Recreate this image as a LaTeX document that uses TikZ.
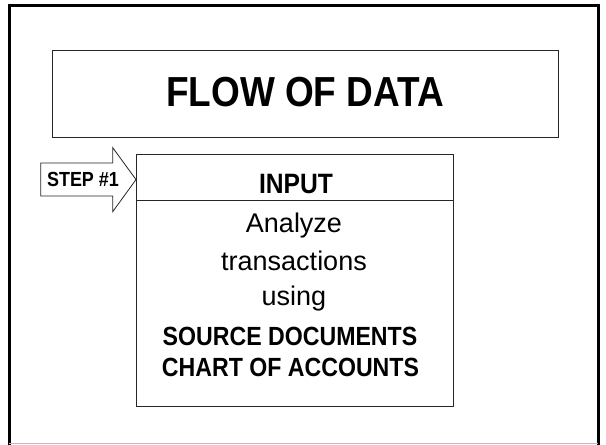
\documentclass[tikz,border=0pt]{standalone}
\usepackage{fontspec}
\setmainfont{Liberation Sans}
\newfontfamily\boldnarrow[FakeStretch=0.88]{Liberation Sans Bold}
\usetikzlibrary{shapes.arrows}
\begin{document}
\begin{tikzpicture}[x=1pt,y=-1pt,
  boxline/.style={draw=black!85, line width=0.9pt},
  frameline/.style={line width=3pt, black},
  txt/.style={inner sep=0pt, anchor=base}]
\useasboundingbox (0,0) rectangle (606,445);
% outer frame
\draw[frameline] (9,446) -- (9,5.5) -- (598,5.5) -- (598,446);
\draw[black!25, line width=1pt] (9,443) -- (598,443);
% title box
\node[boxline, minimum width=505.5pt, minimum height=86.5pt, inner sep=0pt] (title) at (305.25,93.75) {};
\node[txt] (titletext) at (305,106.5) {\boldnarrow\fontsize{42}{42}\selectfont FLOW OF DATA};
% input box
\node[boxline, minimum width=317pt, minimum height=252.8pt, inner sep=0pt] (input) at (295.3,280.4) {};
\coordinate (divL) at (136.8,200.5);
\coordinate (divR) at (453.8,200.5);
\draw[boxline] (divL) -- (divR);
\node[txt] (inputtext) at (296,193) {\boldnarrow\fontsize{28}{28}\selectfont INPUT};
\node[txt] (l1) at (294,232) {\fontsize{27}{27}\selectfont Analyze};
\node[txt] (l2) at (294,270) {\fontsize{27}{27}\selectfont transactions};
\node[txt] (l3) at (294,305) {\fontsize{27}{27}\selectfont using};
\node[txt] (l4) at (290,345) {\boldnarrow\fontsize{26.3}{26}\selectfont SOURCE DOCUMENTS};
\node[txt] (l5) at (290.5,376) {\boldnarrow\fontsize{26.3}{26}\selectfont CHART OF ACCOUNTS};
% step arrow
\coordinate (a1) at (40.8,163);
\coordinate (a2) at (112.7,163);
\coordinate (a3) at (112.7,147.6);
\coordinate (a4) at (136,179.6);
\coordinate (a5) at (112.7,211.7);
\coordinate (a6) at (112.7,196);
\coordinate (a7) at (40.8,196);
\draw[black!85, line width=0.8pt, fill=white] (a1) -- (a2) -- (a3) -- (a4) -- (a5) -- (a6) -- (a7) -- cycle;
\node[txt] (steptext) at (83,186.5) {\boldnarrow\fontsize{20.4}{20}\selectfont STEP \#1};
\end{tikzpicture}
\end{document}
